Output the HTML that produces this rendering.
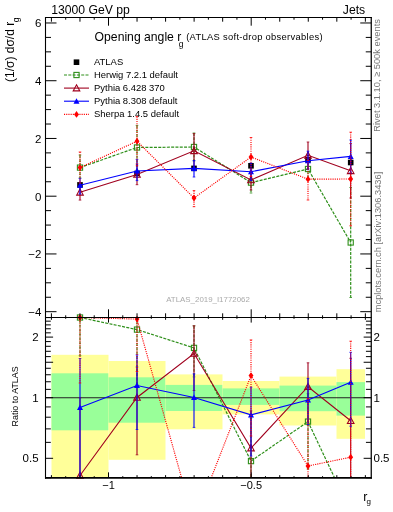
<!DOCTYPE html><html><head><meta charset="utf-8"><style>html,body{margin:0;padding:0;background:#fff;width:393px;height:512px;overflow:hidden}svg{display:block;will-change:transform}text{font-family:"Liberation Sans",sans-serif}</style></head><body>
<svg width="393" height="512" viewBox="0 0 393 512">
<defs><clipPath id="cm"><rect x="45.5" y="17.5" width="325.75" height="300.0"/></clipPath><clipPath id="cr"><rect x="45.5" y="317.5" width="325.75" height="160.45"/></clipPath></defs>
<g clip-path="url(#cr)">
<rect x="51.5" y="354.8" width="57.00" height="123.20" fill="#ffff99"/>
<rect x="51.5" y="373.3" width="57.00" height="57.00" fill="#99ff99"/>
<rect x="108.5" y="361.0" width="57.00" height="98.80" fill="#ffff99"/>
<rect x="108.5" y="377.3" width="57.00" height="45.40" fill="#99ff99"/>
<rect x="165.5" y="374.4" width="57.00" height="54.90" fill="#ffff99"/>
<rect x="165.5" y="384.9" width="57.00" height="26.10" fill="#99ff99"/>
<rect x="222.5" y="381.0" width="57.00" height="33.40" fill="#ffff99"/>
<rect x="222.5" y="388.4" width="57.00" height="16.50" fill="#99ff99"/>
<rect x="279.5" y="376.6" width="57.00" height="48.90" fill="#ffff99"/>
<rect x="279.5" y="385.6" width="57.00" height="25.60" fill="#99ff99"/>
<rect x="336.5" y="369.2" width="28.50" height="69.60" fill="#ffff99"/>
<rect x="336.5" y="382.1" width="28.50" height="33.50" fill="#99ff99"/>
</g>
<line x1="45.5" y1="397.7" x2="371.25" y2="397.7" stroke="#222" stroke-width="1.1"/>
<g clip-path="url(#cm)">
<line x1="80.0" y1="182" x2="80.0" y2="188" stroke="#000" stroke-width="1.2"/>
<rect x="77.20" y="182.10" width="5.60" height="5.60" fill="#000"/>
<line x1="137.0" y1="171" x2="137.0" y2="176" stroke="#000" stroke-width="1.2"/>
<rect x="134.20" y="170.70" width="5.60" height="5.60" fill="#000"/>
<line x1="194.0" y1="166" x2="194.0" y2="171" stroke="#000" stroke-width="1.2"/>
<rect x="191.20" y="165.60" width="5.60" height="5.60" fill="#000"/>
<line x1="251.0" y1="163" x2="251.0" y2="169" stroke="#000" stroke-width="1.2"/>
<rect x="248.20" y="163.00" width="5.60" height="5.60" fill="#000"/>
<line x1="308.0" y1="157" x2="308.0" y2="163" stroke="#000" stroke-width="1.2"/>
<rect x="305.20" y="157.00" width="5.60" height="5.60" fill="#000"/>
<line x1="350.7" y1="159" x2="350.7" y2="166" stroke="#000" stroke-width="1.2"/>
<rect x="347.90" y="159.70" width="5.60" height="5.60" fill="#000"/>
</g>
<g clip-path="url(#cm)">
<line x1="80.0" y1="155.00" x2="80.0" y2="178.00" stroke="#2e8f1a" stroke-width="1.2" stroke-dasharray="3,1.3"/>
<line x1="78.7" y1="155.00" x2="81.3" y2="155.00" stroke="#2e8f1a" stroke-width="0.8"/>
<line x1="78.7" y1="178.00" x2="81.3" y2="178.00" stroke="#2e8f1a" stroke-width="0.8"/>
<line x1="137.0" y1="125.40" x2="137.0" y2="170.00" stroke="#2e8f1a" stroke-width="1.2" stroke-dasharray="3,1.3"/>
<line x1="135.7" y1="125.40" x2="138.3" y2="125.40" stroke="#2e8f1a" stroke-width="0.8"/>
<line x1="135.7" y1="170.00" x2="138.3" y2="170.00" stroke="#2e8f1a" stroke-width="0.8"/>
<line x1="194.0" y1="133.00" x2="194.0" y2="161.00" stroke="#2e8f1a" stroke-width="1.2" stroke-dasharray="3,1.3"/>
<line x1="192.7" y1="133.00" x2="195.3" y2="133.00" stroke="#2e8f1a" stroke-width="0.8"/>
<line x1="192.7" y1="161.00" x2="195.3" y2="161.00" stroke="#2e8f1a" stroke-width="0.8"/>
<line x1="251.0" y1="172.00" x2="251.0" y2="193.00" stroke="#2e8f1a" stroke-width="1.2" stroke-dasharray="3,1.3"/>
<line x1="249.7" y1="172.00" x2="252.3" y2="172.00" stroke="#2e8f1a" stroke-width="0.8"/>
<line x1="249.7" y1="193.00" x2="252.3" y2="193.00" stroke="#2e8f1a" stroke-width="0.8"/>
<line x1="308.0" y1="158.00" x2="308.0" y2="180.00" stroke="#2e8f1a" stroke-width="1.2" stroke-dasharray="3,1.3"/>
<line x1="306.7" y1="158.00" x2="309.3" y2="158.00" stroke="#2e8f1a" stroke-width="0.8"/>
<line x1="306.7" y1="180.00" x2="309.3" y2="180.00" stroke="#2e8f1a" stroke-width="0.8"/>
<line x1="350.7" y1="187.50" x2="350.7" y2="297.50" stroke="#2e8f1a" stroke-width="1.2" stroke-dasharray="3,1.3"/>
<line x1="349.4" y1="187.50" x2="352.0" y2="187.50" stroke="#2e8f1a" stroke-width="0.8"/>
<line x1="349.4" y1="297.50" x2="352.0" y2="297.50" stroke="#2e8f1a" stroke-width="0.8"/>
<path d="M80.00,167.60 L137.00,147.50 L194.00,147.00 L251.00,182.60 L308.00,169.00 L350.70,242.50" fill="none" stroke="#2e8f1a" stroke-width="1.2" stroke-dasharray="3,1.3"/>
</g>
<rect x="77.40" y="165.00" width="5.20" height="5.20" fill="none" stroke="#2e8f1a" stroke-width="1.1"/>
<rect x="134.40" y="144.90" width="5.20" height="5.20" fill="none" stroke="#2e8f1a" stroke-width="1.1"/>
<rect x="191.40" y="144.40" width="5.20" height="5.20" fill="none" stroke="#2e8f1a" stroke-width="1.1"/>
<rect x="248.40" y="180.00" width="5.20" height="5.20" fill="none" stroke="#2e8f1a" stroke-width="1.1"/>
<rect x="305.40" y="166.40" width="5.20" height="5.20" fill="none" stroke="#2e8f1a" stroke-width="1.1"/>
<rect x="348.10" y="239.90" width="5.20" height="5.20" fill="none" stroke="#2e8f1a" stroke-width="1.1"/>
<g clip-path="url(#cm)">
<line x1="80.0" y1="185.00" x2="80.0" y2="200.10" stroke="#a0001e" stroke-width="1.1"/>
<line x1="78.7" y1="185.00" x2="81.3" y2="185.00" stroke="#a0001e" stroke-width="0.8"/>
<line x1="78.7" y1="200.10" x2="81.3" y2="200.10" stroke="#a0001e" stroke-width="0.8"/>
<line x1="137.0" y1="164.00" x2="137.0" y2="184.70" stroke="#a0001e" stroke-width="1.1"/>
<line x1="135.7" y1="164.00" x2="138.3" y2="164.00" stroke="#a0001e" stroke-width="0.8"/>
<line x1="135.7" y1="184.70" x2="138.3" y2="184.70" stroke="#a0001e" stroke-width="0.8"/>
<line x1="194.0" y1="133.60" x2="194.0" y2="168.00" stroke="#a0001e" stroke-width="1.1"/>
<line x1="192.7" y1="133.60" x2="195.3" y2="133.60" stroke="#a0001e" stroke-width="0.8"/>
<line x1="192.7" y1="168.00" x2="195.3" y2="168.00" stroke="#a0001e" stroke-width="0.8"/>
<line x1="251.0" y1="170.00" x2="251.0" y2="190.00" stroke="#a0001e" stroke-width="1.1"/>
<line x1="249.7" y1="170.00" x2="252.3" y2="170.00" stroke="#a0001e" stroke-width="0.8"/>
<line x1="249.7" y1="190.00" x2="252.3" y2="190.00" stroke="#a0001e" stroke-width="0.8"/>
<line x1="308.0" y1="142.00" x2="308.0" y2="168.60" stroke="#a0001e" stroke-width="1.1"/>
<line x1="306.7" y1="142.00" x2="309.3" y2="142.00" stroke="#a0001e" stroke-width="0.8"/>
<line x1="306.7" y1="168.60" x2="309.3" y2="168.60" stroke="#a0001e" stroke-width="0.8"/>
<line x1="350.7" y1="143.60" x2="350.7" y2="198.00" stroke="#a0001e" stroke-width="1.1"/>
<line x1="349.4" y1="143.60" x2="352.0" y2="143.60" stroke="#a0001e" stroke-width="0.8"/>
<line x1="349.4" y1="198.00" x2="352.0" y2="198.00" stroke="#a0001e" stroke-width="0.8"/>
<path d="M80.00,192.30 L137.00,174.50 L194.00,150.80 L251.00,179.90 L308.00,155.30 L350.70,170.80" fill="none" stroke="#a0001e" stroke-width="1.1"/>
</g>
<path d="M80.00,189.00 L83.30,195.11 L76.70,195.11 Z" fill="none" stroke="#a0001e" stroke-width="1.1"/>
<path d="M137.00,171.20 L140.30,177.31 L133.70,177.31 Z" fill="none" stroke="#a0001e" stroke-width="1.1"/>
<path d="M194.00,147.50 L197.30,153.61 L190.70,153.61 Z" fill="none" stroke="#a0001e" stroke-width="1.1"/>
<path d="M251.00,176.60 L254.30,182.71 L247.70,182.71 Z" fill="none" stroke="#a0001e" stroke-width="1.1"/>
<path d="M308.00,152.00 L311.30,158.11 L304.70,158.11 Z" fill="none" stroke="#a0001e" stroke-width="1.1"/>
<path d="M350.70,167.50 L354.00,173.61 L347.40,173.61 Z" fill="none" stroke="#a0001e" stroke-width="1.1"/>
<g clip-path="url(#cm)">
<line x1="80.0" y1="178.40" x2="80.0" y2="194.00" stroke="#0000ff" stroke-width="1.1"/>
<line x1="78.7" y1="178.40" x2="81.3" y2="178.40" stroke="#0000ff" stroke-width="0.8"/>
<line x1="78.7" y1="194.00" x2="81.3" y2="194.00" stroke="#0000ff" stroke-width="0.8"/>
<line x1="137.0" y1="159.40" x2="137.0" y2="180.60" stroke="#0000ff" stroke-width="1.1"/>
<line x1="135.7" y1="159.40" x2="138.3" y2="159.40" stroke="#0000ff" stroke-width="0.8"/>
<line x1="135.7" y1="180.60" x2="138.3" y2="180.60" stroke="#0000ff" stroke-width="0.8"/>
<line x1="194.0" y1="160.50" x2="194.0" y2="177.00" stroke="#0000ff" stroke-width="1.1"/>
<line x1="192.7" y1="160.50" x2="195.3" y2="160.50" stroke="#0000ff" stroke-width="0.8"/>
<line x1="192.7" y1="177.00" x2="195.3" y2="177.00" stroke="#0000ff" stroke-width="0.8"/>
<line x1="251.0" y1="163.00" x2="251.0" y2="180.50" stroke="#0000ff" stroke-width="1.1"/>
<line x1="249.7" y1="163.00" x2="252.3" y2="163.00" stroke="#0000ff" stroke-width="0.8"/>
<line x1="249.7" y1="180.50" x2="252.3" y2="180.50" stroke="#0000ff" stroke-width="0.8"/>
<line x1="308.0" y1="151.20" x2="308.0" y2="169.70" stroke="#0000ff" stroke-width="1.1"/>
<line x1="306.7" y1="151.20" x2="309.3" y2="151.20" stroke="#0000ff" stroke-width="0.8"/>
<line x1="306.7" y1="169.70" x2="309.3" y2="169.70" stroke="#0000ff" stroke-width="0.8"/>
<line x1="350.7" y1="140.00" x2="350.7" y2="172.80" stroke="#0000ff" stroke-width="1.1"/>
<line x1="349.4" y1="140.00" x2="352.0" y2="140.00" stroke="#0000ff" stroke-width="0.8"/>
<line x1="349.4" y1="172.80" x2="352.0" y2="172.80" stroke="#0000ff" stroke-width="0.8"/>
<path d="M80.00,185.30 L137.00,171.00 L194.00,168.40 L251.00,171.70 L308.00,160.80 L350.70,156.40" fill="none" stroke="#0000ff" stroke-width="1.1"/>
</g>
<path d="M80.00,182.30 L83.00,187.85 L77.00,187.85 Z" fill="#0000ff"/>
<path d="M137.00,168.00 L140.00,173.55 L134.00,173.55 Z" fill="#0000ff"/>
<path d="M194.00,165.40 L197.00,170.95 L191.00,170.95 Z" fill="#0000ff"/>
<path d="M251.00,168.70 L254.00,174.25 L248.00,174.25 Z" fill="#0000ff"/>
<path d="M308.00,157.80 L311.00,163.35 L305.00,163.35 Z" fill="#0000ff"/>
<path d="M350.70,153.40 L353.70,158.95 L347.70,158.95 Z" fill="#0000ff"/>
<g clip-path="url(#cm)">
<line x1="80.0" y1="152.00" x2="80.0" y2="183.00" stroke="#ff0000" stroke-width="1.15" stroke-dasharray="1.1,1.1"/>
<line x1="78.7" y1="152.00" x2="81.3" y2="152.00" stroke="#ff0000" stroke-width="0.8"/>
<line x1="78.7" y1="183.00" x2="81.3" y2="183.00" stroke="#ff0000" stroke-width="0.8"/>
<line x1="137.0" y1="116.60" x2="137.0" y2="165.80" stroke="#ff0000" stroke-width="1.15" stroke-dasharray="1.1,1.1"/>
<line x1="135.7" y1="116.60" x2="138.3" y2="116.60" stroke="#ff0000" stroke-width="0.8"/>
<line x1="135.7" y1="165.80" x2="138.3" y2="165.80" stroke="#ff0000" stroke-width="0.8"/>
<line x1="194.0" y1="190.60" x2="194.0" y2="206.70" stroke="#ff0000" stroke-width="1.15" stroke-dasharray="1.1,1.1"/>
<line x1="192.7" y1="190.60" x2="195.3" y2="190.60" stroke="#ff0000" stroke-width="0.8"/>
<line x1="192.7" y1="206.70" x2="195.3" y2="206.70" stroke="#ff0000" stroke-width="0.8"/>
<line x1="251.0" y1="137.50" x2="251.0" y2="176.50" stroke="#ff0000" stroke-width="1.15" stroke-dasharray="1.1,1.1"/>
<line x1="249.7" y1="137.50" x2="252.3" y2="137.50" stroke="#ff0000" stroke-width="0.8"/>
<line x1="249.7" y1="176.50" x2="252.3" y2="176.50" stroke="#ff0000" stroke-width="0.8"/>
<line x1="308.0" y1="160.00" x2="308.0" y2="200.00" stroke="#ff0000" stroke-width="1.15" stroke-dasharray="1.1,1.1"/>
<line x1="306.7" y1="160.00" x2="309.3" y2="160.00" stroke="#ff0000" stroke-width="0.8"/>
<line x1="306.7" y1="200.00" x2="309.3" y2="200.00" stroke="#ff0000" stroke-width="0.8"/>
<line x1="350.7" y1="132.20" x2="350.7" y2="225.80" stroke="#ff0000" stroke-width="1.15" stroke-dasharray="1.1,1.1"/>
<line x1="349.4" y1="132.20" x2="352.0" y2="132.20" stroke="#ff0000" stroke-width="0.8"/>
<line x1="349.4" y1="225.80" x2="352.0" y2="225.80" stroke="#ff0000" stroke-width="0.8"/>
<path d="M80.00,167.60 L137.00,141.20 L194.00,198.00 L251.00,157.00 L308.00,179.20 L350.70,179.00" fill="none" stroke="#ff0000" stroke-width="1.15" stroke-dasharray="1.1,1.1"/>
</g>
<path d="M80.00,164.20 L82.45,167.60 L80.00,171.00 L77.55,167.60 Z" fill="#ff0000"/>
<path d="M137.00,137.80 L139.45,141.20 L137.00,144.60 L134.55,141.20 Z" fill="#ff0000"/>
<path d="M194.00,194.60 L196.45,198.00 L194.00,201.40 L191.55,198.00 Z" fill="#ff0000"/>
<path d="M251.00,153.60 L253.45,157.00 L251.00,160.40 L248.55,157.00 Z" fill="#ff0000"/>
<path d="M308.00,175.80 L310.45,179.20 L308.00,182.60 L305.55,179.20 Z" fill="#ff0000"/>
<path d="M350.70,175.60 L353.15,179.00 L350.70,182.40 L348.25,179.00 Z" fill="#ff0000"/>
<g clip-path="url(#cr)">
<line x1="80.0" y1="290.00" x2="80.0" y2="355.70" stroke="#2e8f1a" stroke-width="1.2" stroke-dasharray="3,1.3"/>
<line x1="78.7" y1="290.00" x2="81.3" y2="290.00" stroke="#2e8f1a" stroke-width="0.8"/>
<line x1="78.7" y1="355.70" x2="81.3" y2="355.70" stroke="#2e8f1a" stroke-width="0.8"/>
<line x1="137.0" y1="300.00" x2="137.0" y2="384.70" stroke="#2e8f1a" stroke-width="1.2" stroke-dasharray="3,1.3"/>
<line x1="135.7" y1="300.00" x2="138.3" y2="300.00" stroke="#2e8f1a" stroke-width="0.8"/>
<line x1="135.7" y1="384.70" x2="138.3" y2="384.70" stroke="#2e8f1a" stroke-width="0.8"/>
<line x1="194.0" y1="325.80" x2="194.0" y2="376.90" stroke="#2e8f1a" stroke-width="1.2" stroke-dasharray="3,1.3"/>
<line x1="192.7" y1="325.80" x2="195.3" y2="325.80" stroke="#2e8f1a" stroke-width="0.8"/>
<line x1="192.7" y1="376.90" x2="195.3" y2="376.90" stroke="#2e8f1a" stroke-width="0.8"/>
<line x1="251.0" y1="418.00" x2="251.0" y2="520.00" stroke="#2e8f1a" stroke-width="1.2" stroke-dasharray="3,1.3"/>
<line x1="249.7" y1="418.00" x2="252.3" y2="418.00" stroke="#2e8f1a" stroke-width="0.8"/>
<line x1="249.7" y1="520.00" x2="252.3" y2="520.00" stroke="#2e8f1a" stroke-width="0.8"/>
<line x1="308.0" y1="393.70" x2="308.0" y2="469.00" stroke="#2e8f1a" stroke-width="1.2" stroke-dasharray="3,1.3"/>
<line x1="306.7" y1="393.70" x2="309.3" y2="393.70" stroke="#2e8f1a" stroke-width="0.8"/>
<line x1="306.7" y1="469.00" x2="309.3" y2="469.00" stroke="#2e8f1a" stroke-width="0.8"/>
<line x1="350.7" y1="480.00" x2="350.7" y2="560.00" stroke="#2e8f1a" stroke-width="1.2" stroke-dasharray="3,1.3"/>
<line x1="349.4" y1="480.00" x2="352.0" y2="480.00" stroke="#2e8f1a" stroke-width="0.8"/>
<line x1="349.4" y1="560.00" x2="352.0" y2="560.00" stroke="#2e8f1a" stroke-width="0.8"/>
<path d="M80.00,317.50 L137.00,329.60 L194.00,347.90 L251.00,461.10 L308.00,421.60 L350.70,512.00" fill="none" stroke="#2e8f1a" stroke-width="1.2" stroke-dasharray="3,1.3"/>
</g>
<rect x="77.40" y="314.90" width="5.20" height="5.20" fill="none" stroke="#2e8f1a" stroke-width="1.1"/>
<rect x="134.40" y="327.00" width="5.20" height="5.20" fill="none" stroke="#2e8f1a" stroke-width="1.1"/>
<rect x="191.40" y="345.30" width="5.20" height="5.20" fill="none" stroke="#2e8f1a" stroke-width="1.1"/>
<rect x="248.40" y="458.50" width="5.20" height="5.20" fill="none" stroke="#2e8f1a" stroke-width="1.1"/>
<rect x="305.40" y="419.00" width="5.20" height="5.20" fill="none" stroke="#2e8f1a" stroke-width="1.1"/>
<g clip-path="url(#cr)">
<line x1="80.0" y1="397.70" x2="80.0" y2="520.00" stroke="#a0001e" stroke-width="1.1"/>
<line x1="78.7" y1="397.70" x2="81.3" y2="397.70" stroke="#a0001e" stroke-width="0.8"/>
<line x1="78.7" y1="520.00" x2="81.3" y2="520.00" stroke="#a0001e" stroke-width="0.8"/>
<line x1="137.0" y1="367.00" x2="137.0" y2="454.80" stroke="#a0001e" stroke-width="1.1"/>
<line x1="135.7" y1="367.00" x2="138.3" y2="367.00" stroke="#a0001e" stroke-width="0.8"/>
<line x1="135.7" y1="454.80" x2="138.3" y2="454.80" stroke="#a0001e" stroke-width="0.8"/>
<line x1="194.0" y1="325.80" x2="194.0" y2="390.50" stroke="#a0001e" stroke-width="1.1"/>
<line x1="192.7" y1="325.80" x2="195.3" y2="325.80" stroke="#a0001e" stroke-width="0.8"/>
<line x1="192.7" y1="390.50" x2="195.3" y2="390.50" stroke="#a0001e" stroke-width="0.8"/>
<line x1="251.0" y1="410.90" x2="251.0" y2="520.00" stroke="#a0001e" stroke-width="1.1"/>
<line x1="249.7" y1="410.90" x2="252.3" y2="410.90" stroke="#a0001e" stroke-width="0.8"/>
<line x1="249.7" y1="520.00" x2="252.3" y2="520.00" stroke="#a0001e" stroke-width="0.8"/>
<line x1="308.0" y1="362.80" x2="308.0" y2="422.00" stroke="#a0001e" stroke-width="1.1"/>
<line x1="306.7" y1="362.80" x2="309.3" y2="362.80" stroke="#a0001e" stroke-width="0.8"/>
<line x1="306.7" y1="422.00" x2="309.3" y2="422.00" stroke="#a0001e" stroke-width="0.8"/>
<line x1="350.7" y1="358.30" x2="350.7" y2="520.00" stroke="#a0001e" stroke-width="1.1"/>
<line x1="349.4" y1="358.30" x2="352.0" y2="358.30" stroke="#a0001e" stroke-width="0.8"/>
<line x1="349.4" y1="520.00" x2="352.0" y2="520.00" stroke="#a0001e" stroke-width="0.8"/>
<path d="M80.00,475.50 L137.00,397.50 L194.00,353.50 L251.00,448.10 L308.00,386.70 L350.70,420.70" fill="none" stroke="#a0001e" stroke-width="1.1"/>
</g>
<path d="M80.00,472.20 L83.30,478.31 L76.70,478.31 Z" fill="none" stroke="#a0001e" stroke-width="1.1"/>
<path d="M137.00,394.20 L140.30,400.31 L133.70,400.31 Z" fill="none" stroke="#a0001e" stroke-width="1.1"/>
<path d="M194.00,350.20 L197.30,356.31 L190.70,356.31 Z" fill="none" stroke="#a0001e" stroke-width="1.1"/>
<path d="M251.00,444.80 L254.30,450.91 L247.70,450.91 Z" fill="none" stroke="#a0001e" stroke-width="1.1"/>
<path d="M308.00,383.40 L311.30,389.50 L304.70,389.50 Z" fill="none" stroke="#a0001e" stroke-width="1.1"/>
<path d="M350.70,417.40 L354.00,423.50 L347.40,423.50 Z" fill="none" stroke="#a0001e" stroke-width="1.1"/>
<g clip-path="url(#cr)">
<line x1="80.0" y1="358.50" x2="80.0" y2="520.00" stroke="#0000ff" stroke-width="1.1"/>
<line x1="78.7" y1="358.50" x2="81.3" y2="358.50" stroke="#0000ff" stroke-width="0.8"/>
<line x1="78.7" y1="520.00" x2="81.3" y2="520.00" stroke="#0000ff" stroke-width="0.8"/>
<line x1="137.0" y1="354.80" x2="137.0" y2="429.50" stroke="#0000ff" stroke-width="1.1"/>
<line x1="135.7" y1="354.80" x2="138.3" y2="354.80" stroke="#0000ff" stroke-width="0.8"/>
<line x1="135.7" y1="429.50" x2="138.3" y2="429.50" stroke="#0000ff" stroke-width="0.8"/>
<line x1="194.0" y1="373.90" x2="194.0" y2="427.40" stroke="#0000ff" stroke-width="1.1"/>
<line x1="192.7" y1="373.90" x2="195.3" y2="373.90" stroke="#0000ff" stroke-width="0.8"/>
<line x1="192.7" y1="427.40" x2="195.3" y2="427.40" stroke="#0000ff" stroke-width="0.8"/>
<line x1="251.0" y1="387.20" x2="251.0" y2="456.00" stroke="#0000ff" stroke-width="1.1"/>
<line x1="249.7" y1="387.20" x2="252.3" y2="387.20" stroke="#0000ff" stroke-width="0.8"/>
<line x1="249.7" y1="456.00" x2="252.3" y2="456.00" stroke="#0000ff" stroke-width="0.8"/>
<line x1="308.0" y1="378.40" x2="308.0" y2="424.90" stroke="#0000ff" stroke-width="1.1"/>
<line x1="306.7" y1="378.40" x2="309.3" y2="378.40" stroke="#0000ff" stroke-width="0.8"/>
<line x1="306.7" y1="424.90" x2="309.3" y2="424.90" stroke="#0000ff" stroke-width="0.8"/>
<line x1="350.7" y1="352.30" x2="350.7" y2="426.20" stroke="#0000ff" stroke-width="1.1"/>
<line x1="349.4" y1="352.30" x2="352.0" y2="352.30" stroke="#0000ff" stroke-width="0.8"/>
<line x1="349.4" y1="426.20" x2="352.0" y2="426.20" stroke="#0000ff" stroke-width="0.8"/>
<path d="M80.00,407.40 L137.00,385.50 L194.00,397.50 L251.00,414.90 L308.00,400.00 L350.70,382.20" fill="none" stroke="#0000ff" stroke-width="1.1"/>
</g>
<path d="M80.00,404.40 L83.00,409.95 L77.00,409.95 Z" fill="#0000ff"/>
<path d="M137.00,382.50 L140.00,388.05 L134.00,388.05 Z" fill="#0000ff"/>
<path d="M194.00,394.50 L197.00,400.05 L191.00,400.05 Z" fill="#0000ff"/>
<path d="M251.00,411.90 L254.00,417.45 L248.00,417.45 Z" fill="#0000ff"/>
<path d="M308.00,397.00 L311.00,402.55 L305.00,402.55 Z" fill="#0000ff"/>
<path d="M350.70,379.20 L353.70,384.75 L347.70,384.75 Z" fill="#0000ff"/>
<g clip-path="url(#cr)">
<line x1="80.0" y1="290.00" x2="80.0" y2="383.00" stroke="#ff0000" stroke-width="1.15" stroke-dasharray="1.1,1.1"/>
<line x1="78.7" y1="290.00" x2="81.3" y2="290.00" stroke="#ff0000" stroke-width="0.8"/>
<line x1="78.7" y1="383.00" x2="81.3" y2="383.00" stroke="#ff0000" stroke-width="0.8"/>
<line x1="137.0" y1="290.00" x2="137.0" y2="371.50" stroke="#ff0000" stroke-width="1.15" stroke-dasharray="1.1,1.1"/>
<line x1="135.7" y1="290.00" x2="138.3" y2="290.00" stroke="#ff0000" stroke-width="0.8"/>
<line x1="135.7" y1="371.50" x2="138.3" y2="371.50" stroke="#ff0000" stroke-width="0.8"/>
<line x1="194.0" y1="480.00" x2="194.0" y2="560.00" stroke="#ff0000" stroke-width="1.15" stroke-dasharray="1.1,1.1"/>
<line x1="192.7" y1="480.00" x2="195.3" y2="480.00" stroke="#ff0000" stroke-width="0.8"/>
<line x1="192.7" y1="560.00" x2="195.3" y2="560.00" stroke="#ff0000" stroke-width="0.8"/>
<line x1="251.0" y1="339.90" x2="251.0" y2="436.00" stroke="#ff0000" stroke-width="1.15" stroke-dasharray="1.1,1.1"/>
<line x1="249.7" y1="339.90" x2="252.3" y2="339.90" stroke="#ff0000" stroke-width="0.8"/>
<line x1="249.7" y1="436.00" x2="252.3" y2="436.00" stroke="#ff0000" stroke-width="0.8"/>
<line x1="308.0" y1="398.60" x2="308.0" y2="520.00" stroke="#ff0000" stroke-width="1.15" stroke-dasharray="1.1,1.1"/>
<line x1="306.7" y1="398.60" x2="309.3" y2="398.60" stroke="#ff0000" stroke-width="0.8"/>
<line x1="306.7" y1="520.00" x2="309.3" y2="520.00" stroke="#ff0000" stroke-width="0.8"/>
<line x1="350.7" y1="341.20" x2="350.7" y2="560.00" stroke="#ff0000" stroke-width="1.15" stroke-dasharray="1.1,1.1"/>
<line x1="349.4" y1="341.20" x2="352.0" y2="341.20" stroke="#ff0000" stroke-width="0.8"/>
<line x1="349.4" y1="560.00" x2="352.0" y2="560.00" stroke="#ff0000" stroke-width="0.8"/>
<path d="M80.00,317.50 L137.00,319.10 L194.00,522.00 L251.00,375.60 L308.00,466.00 L350.70,457.20" fill="none" stroke="#ff0000" stroke-width="1.15" stroke-dasharray="1.1,1.1"/>
</g>
<path d="M80.00,314.10 L82.45,317.50 L80.00,320.90 L77.55,317.50 Z" fill="#ff0000"/>
<path d="M137.00,315.70 L139.45,319.10 L137.00,322.50 L134.55,319.10 Z" fill="#ff0000"/>
<path d="M251.00,372.20 L253.45,375.60 L251.00,379.00 L248.55,375.60 Z" fill="#ff0000"/>
<path d="M308.00,462.60 L310.45,466.00 L308.00,469.40 L305.55,466.00 Z" fill="#ff0000"/>
<path d="M350.70,453.80 L353.15,457.20 L350.70,460.60 L348.25,457.20 Z" fill="#ff0000"/>
<line x1="45.50" y1="311.68" x2="56.50" y2="311.68" stroke="#000" stroke-width="1.0"/>
<line x1="360.25" y1="311.68" x2="371.25" y2="311.68" stroke="#000" stroke-width="1.0"/>
<line x1="45.50" y1="297.25" x2="51.00" y2="297.25" stroke="#000" stroke-width="1.0"/>
<line x1="365.75" y1="297.25" x2="371.25" y2="297.25" stroke="#000" stroke-width="1.0"/>
<line x1="45.50" y1="282.81" x2="51.00" y2="282.81" stroke="#000" stroke-width="1.0"/>
<line x1="365.75" y1="282.81" x2="371.25" y2="282.81" stroke="#000" stroke-width="1.0"/>
<line x1="45.50" y1="268.38" x2="51.00" y2="268.38" stroke="#000" stroke-width="1.0"/>
<line x1="365.75" y1="268.38" x2="371.25" y2="268.38" stroke="#000" stroke-width="1.0"/>
<line x1="45.50" y1="253.94" x2="56.50" y2="253.94" stroke="#000" stroke-width="1.0"/>
<line x1="360.25" y1="253.94" x2="371.25" y2="253.94" stroke="#000" stroke-width="1.0"/>
<line x1="45.50" y1="239.50" x2="51.00" y2="239.50" stroke="#000" stroke-width="1.0"/>
<line x1="365.75" y1="239.50" x2="371.25" y2="239.50" stroke="#000" stroke-width="1.0"/>
<line x1="45.50" y1="225.07" x2="51.00" y2="225.07" stroke="#000" stroke-width="1.0"/>
<line x1="365.75" y1="225.07" x2="371.25" y2="225.07" stroke="#000" stroke-width="1.0"/>
<line x1="45.50" y1="210.63" x2="51.00" y2="210.63" stroke="#000" stroke-width="1.0"/>
<line x1="365.75" y1="210.63" x2="371.25" y2="210.63" stroke="#000" stroke-width="1.0"/>
<line x1="45.50" y1="196.20" x2="56.50" y2="196.20" stroke="#000" stroke-width="1.0"/>
<line x1="360.25" y1="196.20" x2="371.25" y2="196.20" stroke="#000" stroke-width="1.0"/>
<line x1="45.50" y1="181.76" x2="51.00" y2="181.76" stroke="#000" stroke-width="1.0"/>
<line x1="365.75" y1="181.76" x2="371.25" y2="181.76" stroke="#000" stroke-width="1.0"/>
<line x1="45.50" y1="167.33" x2="51.00" y2="167.33" stroke="#000" stroke-width="1.0"/>
<line x1="365.75" y1="167.33" x2="371.25" y2="167.33" stroke="#000" stroke-width="1.0"/>
<line x1="45.50" y1="152.89" x2="51.00" y2="152.89" stroke="#000" stroke-width="1.0"/>
<line x1="365.75" y1="152.89" x2="371.25" y2="152.89" stroke="#000" stroke-width="1.0"/>
<line x1="45.50" y1="138.46" x2="56.50" y2="138.46" stroke="#000" stroke-width="1.0"/>
<line x1="360.25" y1="138.46" x2="371.25" y2="138.46" stroke="#000" stroke-width="1.0"/>
<line x1="45.50" y1="124.02" x2="51.00" y2="124.02" stroke="#000" stroke-width="1.0"/>
<line x1="365.75" y1="124.02" x2="371.25" y2="124.02" stroke="#000" stroke-width="1.0"/>
<line x1="45.50" y1="109.59" x2="51.00" y2="109.59" stroke="#000" stroke-width="1.0"/>
<line x1="365.75" y1="109.59" x2="371.25" y2="109.59" stroke="#000" stroke-width="1.0"/>
<line x1="45.50" y1="95.15" x2="51.00" y2="95.15" stroke="#000" stroke-width="1.0"/>
<line x1="365.75" y1="95.15" x2="371.25" y2="95.15" stroke="#000" stroke-width="1.0"/>
<line x1="45.50" y1="80.72" x2="56.50" y2="80.72" stroke="#000" stroke-width="1.0"/>
<line x1="360.25" y1="80.72" x2="371.25" y2="80.72" stroke="#000" stroke-width="1.0"/>
<line x1="45.50" y1="66.28" x2="51.00" y2="66.28" stroke="#000" stroke-width="1.0"/>
<line x1="365.75" y1="66.28" x2="371.25" y2="66.28" stroke="#000" stroke-width="1.0"/>
<line x1="45.50" y1="51.85" x2="51.00" y2="51.85" stroke="#000" stroke-width="1.0"/>
<line x1="365.75" y1="51.85" x2="371.25" y2="51.85" stroke="#000" stroke-width="1.0"/>
<line x1="45.50" y1="37.41" x2="51.00" y2="37.41" stroke="#000" stroke-width="1.0"/>
<line x1="365.75" y1="37.41" x2="371.25" y2="37.41" stroke="#000" stroke-width="1.0"/>
<line x1="45.50" y1="22.98" x2="56.50" y2="22.98" stroke="#000" stroke-width="1.0"/>
<line x1="360.25" y1="22.98" x2="371.25" y2="22.98" stroke="#000" stroke-width="1.0"/>
<line x1="51.42" y1="17.50" x2="51.42" y2="21.70" stroke="#000" stroke-width="1.0"/>
<line x1="51.42" y1="313.30" x2="51.42" y2="317.50" stroke="#000" stroke-width="1.0"/>
<line x1="51.42" y1="317.50" x2="51.42" y2="319.80" stroke="#000" stroke-width="1.0"/>
<line x1="51.42" y1="475.15" x2="51.42" y2="477.95" stroke="#000" stroke-width="1.0"/>
<line x1="65.69" y1="17.50" x2="65.69" y2="19.70" stroke="#000" stroke-width="1.0"/>
<line x1="65.69" y1="315.30" x2="65.69" y2="317.50" stroke="#000" stroke-width="1.0"/>
<line x1="65.69" y1="317.50" x2="65.69" y2="318.80" stroke="#000" stroke-width="1.0"/>
<line x1="65.69" y1="476.15" x2="65.69" y2="477.95" stroke="#000" stroke-width="1.0"/>
<line x1="79.96" y1="17.50" x2="79.96" y2="21.70" stroke="#000" stroke-width="1.0"/>
<line x1="79.96" y1="313.30" x2="79.96" y2="317.50" stroke="#000" stroke-width="1.0"/>
<line x1="79.96" y1="317.50" x2="79.96" y2="319.80" stroke="#000" stroke-width="1.0"/>
<line x1="79.96" y1="475.15" x2="79.96" y2="477.95" stroke="#000" stroke-width="1.0"/>
<line x1="94.23" y1="17.50" x2="94.23" y2="19.70" stroke="#000" stroke-width="1.0"/>
<line x1="94.23" y1="315.30" x2="94.23" y2="317.50" stroke="#000" stroke-width="1.0"/>
<line x1="94.23" y1="317.50" x2="94.23" y2="318.80" stroke="#000" stroke-width="1.0"/>
<line x1="94.23" y1="476.15" x2="94.23" y2="477.95" stroke="#000" stroke-width="1.0"/>
<line x1="108.50" y1="17.50" x2="108.50" y2="25.70" stroke="#000" stroke-width="1.0"/>
<line x1="108.50" y1="309.30" x2="108.50" y2="317.50" stroke="#000" stroke-width="1.0"/>
<line x1="108.50" y1="317.50" x2="108.50" y2="322.60" stroke="#000" stroke-width="1.0"/>
<line x1="108.50" y1="472.35" x2="108.50" y2="477.95" stroke="#000" stroke-width="1.0"/>
<line x1="122.77" y1="17.50" x2="122.77" y2="19.70" stroke="#000" stroke-width="1.0"/>
<line x1="122.77" y1="315.30" x2="122.77" y2="317.50" stroke="#000" stroke-width="1.0"/>
<line x1="122.77" y1="317.50" x2="122.77" y2="318.80" stroke="#000" stroke-width="1.0"/>
<line x1="122.77" y1="476.15" x2="122.77" y2="477.95" stroke="#000" stroke-width="1.0"/>
<line x1="137.04" y1="17.50" x2="137.04" y2="21.70" stroke="#000" stroke-width="1.0"/>
<line x1="137.04" y1="313.30" x2="137.04" y2="317.50" stroke="#000" stroke-width="1.0"/>
<line x1="137.04" y1="317.50" x2="137.04" y2="319.80" stroke="#000" stroke-width="1.0"/>
<line x1="137.04" y1="475.15" x2="137.04" y2="477.95" stroke="#000" stroke-width="1.0"/>
<line x1="151.31" y1="17.50" x2="151.31" y2="19.70" stroke="#000" stroke-width="1.0"/>
<line x1="151.31" y1="315.30" x2="151.31" y2="317.50" stroke="#000" stroke-width="1.0"/>
<line x1="151.31" y1="317.50" x2="151.31" y2="318.80" stroke="#000" stroke-width="1.0"/>
<line x1="151.31" y1="476.15" x2="151.31" y2="477.95" stroke="#000" stroke-width="1.0"/>
<line x1="165.58" y1="17.50" x2="165.58" y2="21.70" stroke="#000" stroke-width="1.0"/>
<line x1="165.58" y1="313.30" x2="165.58" y2="317.50" stroke="#000" stroke-width="1.0"/>
<line x1="165.58" y1="317.50" x2="165.58" y2="319.80" stroke="#000" stroke-width="1.0"/>
<line x1="165.58" y1="475.15" x2="165.58" y2="477.95" stroke="#000" stroke-width="1.0"/>
<line x1="179.85" y1="17.50" x2="179.85" y2="19.70" stroke="#000" stroke-width="1.0"/>
<line x1="179.85" y1="315.30" x2="179.85" y2="317.50" stroke="#000" stroke-width="1.0"/>
<line x1="179.85" y1="317.50" x2="179.85" y2="318.80" stroke="#000" stroke-width="1.0"/>
<line x1="179.85" y1="476.15" x2="179.85" y2="477.95" stroke="#000" stroke-width="1.0"/>
<line x1="194.12" y1="17.50" x2="194.12" y2="21.70" stroke="#000" stroke-width="1.0"/>
<line x1="194.12" y1="313.30" x2="194.12" y2="317.50" stroke="#000" stroke-width="1.0"/>
<line x1="194.12" y1="317.50" x2="194.12" y2="319.80" stroke="#000" stroke-width="1.0"/>
<line x1="194.12" y1="475.15" x2="194.12" y2="477.95" stroke="#000" stroke-width="1.0"/>
<line x1="208.39" y1="17.50" x2="208.39" y2="19.70" stroke="#000" stroke-width="1.0"/>
<line x1="208.39" y1="315.30" x2="208.39" y2="317.50" stroke="#000" stroke-width="1.0"/>
<line x1="208.39" y1="317.50" x2="208.39" y2="318.80" stroke="#000" stroke-width="1.0"/>
<line x1="208.39" y1="476.15" x2="208.39" y2="477.95" stroke="#000" stroke-width="1.0"/>
<line x1="222.66" y1="17.50" x2="222.66" y2="21.70" stroke="#000" stroke-width="1.0"/>
<line x1="222.66" y1="313.30" x2="222.66" y2="317.50" stroke="#000" stroke-width="1.0"/>
<line x1="222.66" y1="317.50" x2="222.66" y2="319.80" stroke="#000" stroke-width="1.0"/>
<line x1="222.66" y1="475.15" x2="222.66" y2="477.95" stroke="#000" stroke-width="1.0"/>
<line x1="236.93" y1="17.50" x2="236.93" y2="19.70" stroke="#000" stroke-width="1.0"/>
<line x1="236.93" y1="315.30" x2="236.93" y2="317.50" stroke="#000" stroke-width="1.0"/>
<line x1="236.93" y1="317.50" x2="236.93" y2="318.80" stroke="#000" stroke-width="1.0"/>
<line x1="236.93" y1="476.15" x2="236.93" y2="477.95" stroke="#000" stroke-width="1.0"/>
<line x1="251.20" y1="17.50" x2="251.20" y2="25.70" stroke="#000" stroke-width="1.0"/>
<line x1="251.20" y1="309.30" x2="251.20" y2="317.50" stroke="#000" stroke-width="1.0"/>
<line x1="251.20" y1="317.50" x2="251.20" y2="322.60" stroke="#000" stroke-width="1.0"/>
<line x1="251.20" y1="472.35" x2="251.20" y2="477.95" stroke="#000" stroke-width="1.0"/>
<line x1="265.47" y1="17.50" x2="265.47" y2="19.70" stroke="#000" stroke-width="1.0"/>
<line x1="265.47" y1="315.30" x2="265.47" y2="317.50" stroke="#000" stroke-width="1.0"/>
<line x1="265.47" y1="317.50" x2="265.47" y2="318.80" stroke="#000" stroke-width="1.0"/>
<line x1="265.47" y1="476.15" x2="265.47" y2="477.95" stroke="#000" stroke-width="1.0"/>
<line x1="279.74" y1="17.50" x2="279.74" y2="21.70" stroke="#000" stroke-width="1.0"/>
<line x1="279.74" y1="313.30" x2="279.74" y2="317.50" stroke="#000" stroke-width="1.0"/>
<line x1="279.74" y1="317.50" x2="279.74" y2="319.80" stroke="#000" stroke-width="1.0"/>
<line x1="279.74" y1="475.15" x2="279.74" y2="477.95" stroke="#000" stroke-width="1.0"/>
<line x1="294.01" y1="17.50" x2="294.01" y2="19.70" stroke="#000" stroke-width="1.0"/>
<line x1="294.01" y1="315.30" x2="294.01" y2="317.50" stroke="#000" stroke-width="1.0"/>
<line x1="294.01" y1="317.50" x2="294.01" y2="318.80" stroke="#000" stroke-width="1.0"/>
<line x1="294.01" y1="476.15" x2="294.01" y2="477.95" stroke="#000" stroke-width="1.0"/>
<line x1="308.28" y1="17.50" x2="308.28" y2="21.70" stroke="#000" stroke-width="1.0"/>
<line x1="308.28" y1="313.30" x2="308.28" y2="317.50" stroke="#000" stroke-width="1.0"/>
<line x1="308.28" y1="317.50" x2="308.28" y2="319.80" stroke="#000" stroke-width="1.0"/>
<line x1="308.28" y1="475.15" x2="308.28" y2="477.95" stroke="#000" stroke-width="1.0"/>
<line x1="322.55" y1="17.50" x2="322.55" y2="19.70" stroke="#000" stroke-width="1.0"/>
<line x1="322.55" y1="315.30" x2="322.55" y2="317.50" stroke="#000" stroke-width="1.0"/>
<line x1="322.55" y1="317.50" x2="322.55" y2="318.80" stroke="#000" stroke-width="1.0"/>
<line x1="322.55" y1="476.15" x2="322.55" y2="477.95" stroke="#000" stroke-width="1.0"/>
<line x1="336.82" y1="17.50" x2="336.82" y2="21.70" stroke="#000" stroke-width="1.0"/>
<line x1="336.82" y1="313.30" x2="336.82" y2="317.50" stroke="#000" stroke-width="1.0"/>
<line x1="336.82" y1="317.50" x2="336.82" y2="319.80" stroke="#000" stroke-width="1.0"/>
<line x1="336.82" y1="475.15" x2="336.82" y2="477.95" stroke="#000" stroke-width="1.0"/>
<line x1="351.09" y1="17.50" x2="351.09" y2="19.70" stroke="#000" stroke-width="1.0"/>
<line x1="351.09" y1="315.30" x2="351.09" y2="317.50" stroke="#000" stroke-width="1.0"/>
<line x1="351.09" y1="317.50" x2="351.09" y2="318.80" stroke="#000" stroke-width="1.0"/>
<line x1="351.09" y1="476.15" x2="351.09" y2="477.95" stroke="#000" stroke-width="1.0"/>
<line x1="365.36" y1="17.50" x2="365.36" y2="21.70" stroke="#000" stroke-width="1.0"/>
<line x1="365.36" y1="313.30" x2="365.36" y2="317.50" stroke="#000" stroke-width="1.0"/>
<line x1="365.36" y1="317.50" x2="365.36" y2="319.80" stroke="#000" stroke-width="1.0"/>
<line x1="365.36" y1="475.15" x2="365.36" y2="477.95" stroke="#000" stroke-width="1.0"/>
<line x1="45.50" y1="477.81" x2="50.80" y2="477.81" stroke="#000" stroke-width="1.0"/>
<line x1="365.95" y1="477.81" x2="371.25" y2="477.81" stroke="#000" stroke-width="1.0"/>
<line x1="45.50" y1="458.30" x2="53.10" y2="458.30" stroke="#000" stroke-width="1.0"/>
<line x1="363.65" y1="458.30" x2="371.25" y2="458.30" stroke="#000" stroke-width="1.0"/>
<line x1="45.50" y1="442.36" x2="50.80" y2="442.36" stroke="#000" stroke-width="1.0"/>
<line x1="365.95" y1="442.36" x2="371.25" y2="442.36" stroke="#000" stroke-width="1.0"/>
<line x1="45.50" y1="428.88" x2="50.80" y2="428.88" stroke="#000" stroke-width="1.0"/>
<line x1="365.95" y1="428.88" x2="371.25" y2="428.88" stroke="#000" stroke-width="1.0"/>
<line x1="45.50" y1="417.21" x2="50.80" y2="417.21" stroke="#000" stroke-width="1.0"/>
<line x1="365.95" y1="417.21" x2="371.25" y2="417.21" stroke="#000" stroke-width="1.0"/>
<line x1="45.50" y1="406.91" x2="50.80" y2="406.91" stroke="#000" stroke-width="1.0"/>
<line x1="365.95" y1="406.91" x2="371.25" y2="406.91" stroke="#000" stroke-width="1.0"/>
<line x1="45.50" y1="397.70" x2="53.10" y2="397.70" stroke="#000" stroke-width="1.0"/>
<line x1="363.65" y1="397.70" x2="371.25" y2="397.70" stroke="#000" stroke-width="1.0"/>
<line x1="45.50" y1="389.37" x2="50.80" y2="389.37" stroke="#000" stroke-width="1.0"/>
<line x1="365.95" y1="389.37" x2="371.25" y2="389.37" stroke="#000" stroke-width="1.0"/>
<line x1="45.50" y1="381.76" x2="50.80" y2="381.76" stroke="#000" stroke-width="1.0"/>
<line x1="365.95" y1="381.76" x2="371.25" y2="381.76" stroke="#000" stroke-width="1.0"/>
<line x1="45.50" y1="374.76" x2="50.80" y2="374.76" stroke="#000" stroke-width="1.0"/>
<line x1="365.95" y1="374.76" x2="371.25" y2="374.76" stroke="#000" stroke-width="1.0"/>
<line x1="45.50" y1="368.28" x2="50.80" y2="368.28" stroke="#000" stroke-width="1.0"/>
<line x1="365.95" y1="368.28" x2="371.25" y2="368.28" stroke="#000" stroke-width="1.0"/>
<line x1="45.50" y1="362.25" x2="53.10" y2="362.25" stroke="#000" stroke-width="1.0"/>
<line x1="363.65" y1="362.25" x2="371.25" y2="362.25" stroke="#000" stroke-width="1.0"/>
<line x1="45.50" y1="356.61" x2="50.80" y2="356.61" stroke="#000" stroke-width="1.0"/>
<line x1="365.95" y1="356.61" x2="371.25" y2="356.61" stroke="#000" stroke-width="1.0"/>
<line x1="45.50" y1="351.31" x2="50.80" y2="351.31" stroke="#000" stroke-width="1.0"/>
<line x1="365.95" y1="351.31" x2="371.25" y2="351.31" stroke="#000" stroke-width="1.0"/>
<line x1="45.50" y1="346.31" x2="50.80" y2="346.31" stroke="#000" stroke-width="1.0"/>
<line x1="365.95" y1="346.31" x2="371.25" y2="346.31" stroke="#000" stroke-width="1.0"/>
<line x1="45.50" y1="341.59" x2="50.80" y2="341.59" stroke="#000" stroke-width="1.0"/>
<line x1="365.95" y1="341.59" x2="371.25" y2="341.59" stroke="#000" stroke-width="1.0"/>
<line x1="45.50" y1="337.10" x2="53.10" y2="337.10" stroke="#000" stroke-width="1.0"/>
<line x1="363.65" y1="337.10" x2="371.25" y2="337.10" stroke="#000" stroke-width="1.0"/>
<line x1="45.50" y1="332.84" x2="50.80" y2="332.84" stroke="#000" stroke-width="1.0"/>
<line x1="365.95" y1="332.84" x2="371.25" y2="332.84" stroke="#000" stroke-width="1.0"/>
<line x1="45.50" y1="328.77" x2="50.80" y2="328.77" stroke="#000" stroke-width="1.0"/>
<line x1="365.95" y1="328.77" x2="371.25" y2="328.77" stroke="#000" stroke-width="1.0"/>
<line x1="45.50" y1="324.88" x2="50.80" y2="324.88" stroke="#000" stroke-width="1.0"/>
<line x1="365.95" y1="324.88" x2="371.25" y2="324.88" stroke="#000" stroke-width="1.0"/>
<line x1="45.50" y1="321.16" x2="50.80" y2="321.16" stroke="#000" stroke-width="1.0"/>
<line x1="365.95" y1="321.16" x2="371.25" y2="321.16" stroke="#000" stroke-width="1.0"/>
<line x1="45.50" y1="317.59" x2="50.80" y2="317.59" stroke="#000" stroke-width="1.0"/>
<line x1="365.95" y1="317.59" x2="371.25" y2="317.59" stroke="#000" stroke-width="1.0"/>
<line x1="45.5" y1="17.0" x2="45.5" y2="478.84999999999997" stroke="#000" stroke-width="1.1"/>
<line x1="371.25" y1="17.0" x2="371.25" y2="478.84999999999997" stroke="#000" stroke-width="1.25"/>
<line x1="45.0" y1="17.5" x2="371.85" y2="17.5" stroke="#000" stroke-width="1.1"/>
<line x1="45.0" y1="477.95" x2="371.85" y2="477.95" stroke="#000" stroke-width="1.8"/>
<line x1="45.5" y1="317.5" x2="371.25" y2="317.5" stroke="#000" stroke-width="1"/>
<text x="51.2" y="14.2" font-size="12.2" text-anchor="start" fill="#000">13000 GeV pp</text>
<text x="365.2" y="14.0" font-size="12.2" text-anchor="end" fill="#000">Jets</text>
<text transform="translate(14.1,82) rotate(-90)" font-size="12" fill="#000">(1/σ) dσ/d r</text>
<text transform="translate(19.2,22.3) rotate(-90)" font-size="8.6" fill="#000">g</text>
<text x="41.3" y="27.27999999999999" font-size="11.5" text-anchor="end" fill="#000">6</text>
<text x="41.3" y="85.01999999999998" font-size="11.5" text-anchor="end" fill="#000">4</text>
<text x="41.3" y="142.76" font-size="11.5" text-anchor="end" fill="#000">2</text>
<text x="41.3" y="200.5" font-size="11.5" text-anchor="end" fill="#000">0</text>
<text x="41.3" y="258.24" font-size="11.5" text-anchor="end" fill="#000">−2</text>
<text x="41.3" y="315.98" font-size="11.5" text-anchor="end" fill="#000">−4</text>
<text x="38.6" y="341.1026618728406" font-size="11.5" text-anchor="end" fill="#000">2</text>
<text x="373.5" y="341.1026618728406" font-size="11.5" text-anchor="start" fill="#000">2</text>
<text x="38.6" y="401.7" font-size="11.5" text-anchor="end" fill="#000">1</text>
<text x="373.5" y="401.7" font-size="11.5" text-anchor="start" fill="#000">1</text>
<text x="38.6" y="462.2973381271594" font-size="11.5" text-anchor="end" fill="#000">0.5</text>
<text x="373.5" y="462.2973381271594" font-size="11.5" text-anchor="start" fill="#000">0.5</text>
<text x="108.6" y="489" font-size="11" text-anchor="middle" fill="#000">−1</text>
<text x="251.2" y="488.8" font-size="11" text-anchor="middle" fill="#000">−0.5</text>
<text x="363.3" y="500.6" font-size="12.5" text-anchor="start" fill="#000">r</text>
<text x="366.6" y="503.6" font-size="8.0" text-anchor="start" fill="#000">g</text>
<text transform="translate(18.3,396.4) rotate(-90)" font-size="8.9" text-anchor="middle" fill="#000">Ratio to ATLAS</text>
<text x="94.6" y="40.8" font-size="12.2" text-anchor="start" fill="#000">Opening angle r</text>
<text x="178.7" y="47.4" font-size="8.5" text-anchor="start" fill="#000">g</text>
<text x="186.2" y="40.2" font-size="9.4" text-anchor="start" fill="#000" textLength="136.3" lengthAdjust="spacing">(ATLAS soft-drop observables)</text>
<text x="94.0" y="65.0" font-size="9.45" text-anchor="start" fill="#000">ATLAS</text>
<text x="94.0" y="77.9" font-size="9.45" text-anchor="start" fill="#000">Herwig 7.2.1 default</text>
<text x="94.0" y="90.8" font-size="9.45" text-anchor="start" fill="#000">Pythia 6.428 370</text>
<text x="94.0" y="103.7" font-size="9.45" text-anchor="start" fill="#000">Pythia 8.308 default</text>
<text x="94.0" y="116.6" font-size="9.45" text-anchor="start" fill="#000">Sherpa 1.4.5 default</text>
<rect x="73.70" y="59.40" width="5.60" height="5.60" fill="#000"/>
<line x1="64" y1="75.0" x2="89" y2="75.0" stroke="#2e8f1a" stroke-width="1.2" stroke-dasharray="3,1.3"/>
<rect x="73.90" y="72.40" width="5.20" height="5.20" fill="none" stroke="#2e8f1a" stroke-width="1.1"/>
<line x1="64" y1="88.1" x2="89" y2="88.1" stroke="#a0001e" stroke-width="1.1"/>
<path d="M76.50,84.80 L79.80,90.91 L73.20,90.91 Z" fill="none" stroke="#a0001e" stroke-width="1.1"/>
<line x1="64" y1="101.2" x2="89" y2="101.2" stroke="#0000ff" stroke-width="1.1"/>
<path d="M76.50,98.20 L79.50,103.75 L73.50,103.75 Z" fill="#0000ff"/>
<line x1="64" y1="114.4" x2="89" y2="114.4" stroke="#ff0000" stroke-width="1.15" stroke-dasharray="1.1,1.1"/>
<path d="M76.50,111.00 L78.95,114.40 L76.50,117.80 L74.05,114.40 Z" fill="#ff0000"/>
<text x="166.2" y="302.2" font-size="7.9" text-anchor="start" fill="#aaa">ATLAS_2019_I1772062</text>
<text transform="translate(380.4,19.1) rotate(-90)" font-size="9.3" text-anchor="end" fill="#777">Rivet 3.1.10, ≥ 500k events</text>
<text transform="translate(380.9,171.7) rotate(-90)" font-size="9.3" text-anchor="end" fill="#777">mcplots.cern.ch [arXiv:1306.3436]</text>
</svg></body></html>
